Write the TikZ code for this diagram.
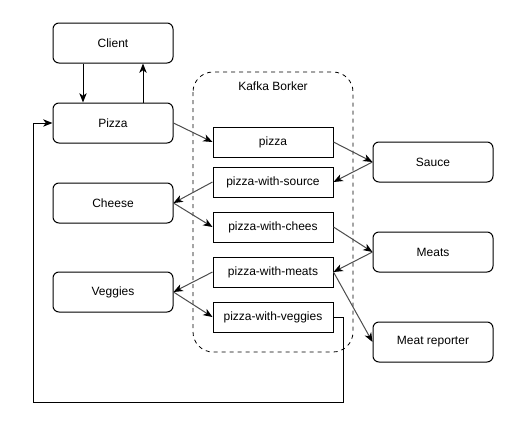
\documentclass[tikz,border=0pt]{standalone}
\usepackage{fontspec}
\setmainfont{Liberation Sans}
\usetikzlibrary{arrows.meta}
\begin{document}
\begin{tikzpicture}[x=0.75pt,y=-0.75pt,
  svc/.style={draw,rounded corners=4.5pt,minimum width=90pt,minimum height=30pt,inner sep=0pt,line width=0.75pt,font=\fontsize{9}{10}\selectfont},
  topic/.style={draw,minimum width=90pt,minimum height=22.5pt,inner sep=0pt,line width=0.75pt,font=\fontsize{9}{10}\selectfont},
  conn/.style={line width=0.75pt,-{Stealth[length=7pt,width=5.5pt,inset=2pt,color=black]}},
  diag/.style={conn,draw=black!70},
  broker/.style={draw,dashed,rounded corners=15pt,line width=0.6pt}]
\useasboundingbox (0,0) rectangle (518,422);
% broker container
\draw[broker] (193,72) rectangle (353,352);
\node[font=\fontsize{9}{10}\selectfont] (kb) at (273,86) {Kafka Borker};
% services
\node[svc] (client) at (113,43) {Client};
\node[svc] (pizzasvc) at (113,123) {Pizza};
\node[svc] (cheese) at (113,203) {Cheese};
\node[svc] (veggies) at (113,292) {Veggies};
\node[svc] (sauce) at (433,162) {Sauce};
\node[svc] (meats) at (433,252) {Meats};
\node[svc] (reporter) at (433,342) {Meat reporter};
% topics
\node[topic] (tpizza) at (273,142) {pizza};
\node[topic] (tsource) at (273,182) {pizza-with-source};
\node[topic] (tchees) at (273,227) {pizza-with-chees};
\node[topic] (tmeats) at (273,272) {pizza-with-meats};
\node[topic] (tveg) at (273,317) {pizza-with-veggies};
% client <-> pizza
\draw[conn] (client.south -| 83,0) -- (pizzasvc.north -| 83,0);
\draw[conn] (pizzasvc.north -| 143,0) -- (client.south -| 143,0);
% flows
\draw[diag] (pizzasvc.east) -- (tpizza.west);
\draw[diag] (tpizza.east) -- (sauce.west);
\draw[diag] (sauce.west) -- (tsource.east);
\draw[diag] (tsource.west) -- (cheese.east);
\draw[diag] (cheese.east) -- (tchees.west);
\draw[diag] (tchees.east) -- (meats.west);
\draw[diag] (meats.west) -- (tmeats.east);
\draw[diag] (tmeats.east) -- (reporter.west);
\draw[diag] (tmeats.west) -- (veggies.east);
\draw[diag] (veggies.east) -- (tveg.west);
% loop back
\coordinate (l1) at (343,317);
\coordinate (l2) at (343,402);
\coordinate (l3) at (33,402);
\coordinate (l4) at (33,123);
\draw[conn] (tveg.east) -- (l1) -- (l2) -- (l3) -- (l4) -- (pizzasvc.west);
\end{tikzpicture}
\end{document}
